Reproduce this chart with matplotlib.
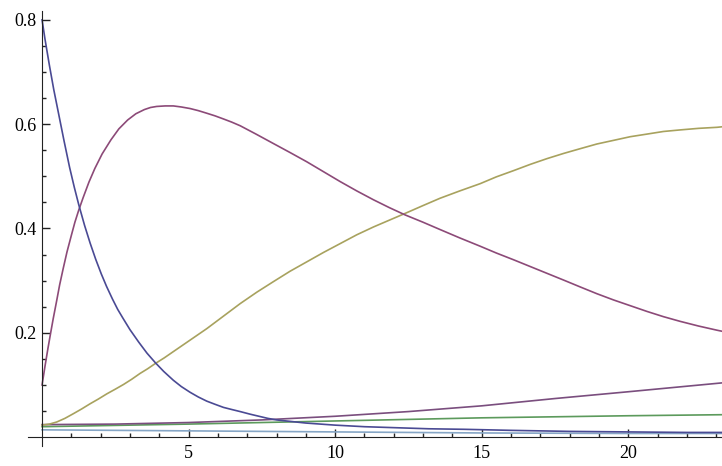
import matplotlib.pyplot as plt
import numpy as np

# values
t_blue = [0, 0.1, 0.25, 0.4, 0.55, 0.75, 0.94, 1.1, 1.25, 1.45, 1.64, 1.83, 2.02, 2.2, 2.4, 2.58, 2.76,
          3.0, 3.3, 3.58, 3.86, 4.15, 4.48, 4.75, 5.05, 5.33, 5.62, 5.9, 6.19, 6.47, 6.76, 7.1, 7.4,
          7.7, 8.0, 8.5, 9.0, 9.5, 10.0, 11.0, 12.1, 13.2, 14.4, 16.0, 18.0, 20.0, 22.0, 23.2]
y_blue = [0.80, 0.763, 0.713, 0.666, 0.624, 0.568, 0.517, 0.479, 0.446, 0.406, 0.372, 0.341, 0.313, 0.289,
          0.265, 0.245, 0.228, 0.206, 0.182, 0.161, 0.143, 0.126, 0.109, 0.097, 0.086, 0.077, 0.069, 0.063,
          0.057, 0.053, 0.049, 0.044, 0.040, 0.036, 0.033, 0.030, 0.027, 0.025, 0.023, 0.020, 0.018, 0.016,
          0.015, 0.013, 0.011, 0.010, 0.009, 0.009]

t_purple = [0, 0.1, 0.2, 0.3, 0.38, 0.5, 0.6, 0.72, 0.85, 1.0, 1.12, 1.25, 1.4, 1.6, 1.8, 2.05, 2.35,
            2.62, 2.92, 3.2, 3.49, 3.7, 3.91, 4.2, 4.48, 4.75, 5.05, 5.33, 5.62, 5.9, 6.19, 6.47, 6.76,
            7.3, 7.89, 8.45, 9.03, 9.6, 10.17, 10.74, 11.31, 11.85, 12.39, 13.0, 13.58, 14.25, 14.95,
            15.5, 16.09, 16.66, 17.23, 17.8, 18.36, 18.93, 19.5, 20.07, 20.64, 21.2, 21.77, 22.4, 23.03, 23.2]
y_purple = [0.10, 0.136, 0.170, 0.202, 0.227, 0.262, 0.292, 0.323, 0.355, 0.387, 0.412, 0.435, 0.459,
            0.489, 0.515, 0.543, 0.570, 0.591, 0.608, 0.620, 0.628, 0.632, 0.634, 0.635, 0.635, 0.633,
            0.630, 0.626, 0.621, 0.616, 0.610, 0.604, 0.597, 0.581, 0.563, 0.546, 0.528, 0.509, 0.490,
            0.472, 0.455, 0.440, 0.426, 0.412, 0.398, 0.382, 0.366, 0.353, 0.340, 0.327, 0.314, 0.301,
            0.288, 0.275, 0.263, 0.252, 0.241, 0.231, 0.222, 0.213, 0.205, 0.203]

t_yellow = [0, 0.25, 0.5, 0.78, 1.07, 1.35, 1.64, 1.92, 2.21, 2.5, 2.78, 3.06, 3.34, 3.6, 3.86, 4.17,
            4.48, 5.05, 5.62, 6.19, 6.76, 7.33, 7.89, 8.46, 9.03, 9.6, 10.17, 10.74, 11.31, 11.85, 12.39,
            13.0, 13.58, 14.25, 14.95, 15.5, 16.09, 16.66, 17.23, 17.8, 18.36, 18.93, 19.5, 20.07, 20.64,
            21.2, 21.77, 22.4, 23.03, 23.2]
y_yellow = [0.023, 0.025, 0.029, 0.036, 0.045, 0.054, 0.064, 0.073, 0.083, 0.092, 0.101, 0.111, 0.122,
            0.131, 0.141, 0.152, 0.164, 0.186, 0.208, 0.232, 0.256, 0.278, 0.298, 0.318, 0.336, 0.354,
            0.371, 0.388, 0.403, 0.416, 0.429, 0.444, 0.458, 0.472, 0.486, 0.499, 0.511, 0.523, 0.534,
            0.544, 0.553, 0.562, 0.569, 0.576, 0.581, 0.586, 0.589, 0.592, 0.594, 0.595]

t_green = [0, 5, 10, 15, 20, 23.2]
y_green = [0.020, 0.025, 0.031, 0.037, 0.041, 0.043]

t_violet = [0, 2.5, 5, 7.5, 10, 12.5, 15, 17.5, 20, 23.2]
y_violet = [0.024, 0.025, 0.028, 0.033, 0.040, 0.049, 0.060, 0.074, 0.087, 0.104]

t_steel = [0, 5, 10, 15, 20, 23.2]
y_steel = [0.014, 0.012, 0.010, 0.008, 0.007, 0.007]

fig = plt.figure(figsize=(7.22, 4.66), dpi=100)
ax = fig.add_axes([28 / 722, 20 / 466, 694 / 722, 435 / 466])

ax.plot(t_steel, y_steel, color="#86a6c6", lw=1.2)
ax.plot(t_green, y_green, color="#5c9a5c", lw=1.2)
ax.plot(t_violet, y_violet, color="#7a4e7e", lw=1.2)
ax.plot(t_yellow, y_yellow, color="#a8a25e", lw=1.2)
ax.plot(t_purple, y_purple, color="#8c4a78", lw=1.2)
ax.plot(t_blue, y_blue, color="#4a4a94", lw=1.2)

ax.set_xlim(-0.48, 23.2)
ax.set_ylim(-0.017, 0.817)

for side in ["top", "right"]:
    ax.spines[side].set_visible(False)
ax.spines["left"].set_position(("data", 0))
ax.spines["bottom"].set_position(("data", 0))
ax.spines["left"].set_color("#222222")
ax.spines["bottom"].set_color("#222222")

ax.set_xticks([5, 10, 15, 20])
ax.set_xticklabels(["5", "10", "15", "20"])
ax.set_xticks(np.arange(1, 24), minor=True)
ax.set_yticks([0.2, 0.4, 0.6, 0.8])
ax.set_yticklabels(["0.2", "0.4", "0.6", "0.8"])
ax.set_yticks(np.arange(0.05, 0.81, 0.05), minor=True)

ax.tick_params(which="both", direction="in", color="#222222")
ax.tick_params(which="major", length=6, width=1)
ax.tick_params(which="minor", length=3, width=1)
ax.tick_params(axis="x", pad=6, labelsize=13)
ax.tick_params(axis="y", pad=4, labelsize=13)
for lab in ax.get_xticklabels() + ax.get_yticklabels():
    lab.set_fontfamily("Liberation Serif")

fig.savefig("out.png", dpi=100)
